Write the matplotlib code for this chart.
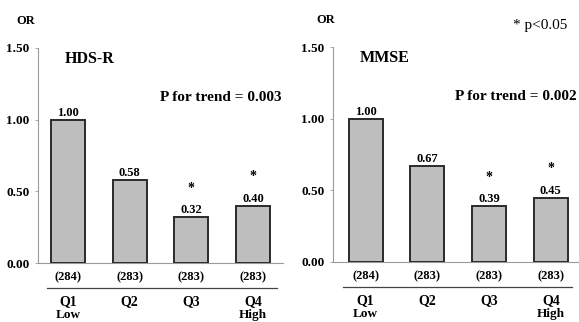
import matplotlib
matplotlib.use("Agg")
import matplotlib.pyplot as plt

categories = ["Q1", "Q2", "Q3", "Q4"]
sublabels = ["Low", "", "", "High"]
counts = ["(284)", "(283)", "(283)", "(283)"]
hds_values = [1.00, 0.58, 0.32, 0.40]
mmse_values = [1.00, 0.67, 0.39, 0.45]
hds_sig = [False, False, True, True]
mmse_sig = [False, False, True, True]
yticks = [0.00, 0.50, 1.00, 1.50]
ytick_labels = ["0.00", "0.50", "1.00", "1.50"]

plt.rcParams['font.family'] = ['Liberation Serif', 'DejaVu Serif']
plt.rcParams['font.weight'] = 'bold'

W, H = 579, 322
fig = plt.figure(figsize=(W / 100, H / 100), dpi=100)


def px_axes(x0, x1, ytop, ybot):
    return fig.add_axes([x0 / W, (H - ybot) / H, (x1 - x0) / W, (ybot - ytop) / H])


def panel(ax, values, sig, title, trend, xlim, line_x):
    xs = list(range(len(categories)))
    ax.bar(xs, values, width=0.55, color='#bebebe', edgecolor='#2a2a2a', linewidth=1.4, zorder=3)
    ax.set_xlim(*xlim)
    ax.set_ylim(0, 1.5)
    ax.set_yticks(yticks)
    ax.set_yticklabels(ytick_labels, fontsize=9.5, fontweight='bold')
    ax.set_xticks([])
    for s in ['top', 'right']:
        ax.spines[s].set_visible(False)
    for s in ['left', 'bottom']:
        ax.spines[s].set_color('#9a9a9a')
        ax.spines[s].set_linewidth(0.8)
    ax.tick_params(axis='y', length=2, width=0.6, color='#9a9a9a', pad=4)
    for x, v, s in zip(xs, values, sig):
        ax.annotate(f"{v:.2f}", (x, v), xytext=(0, 0.5), textcoords='offset points',
                    ha='center', va='bottom', fontsize=9, fontweight='bold')
        if s:
            ax.annotate("*", (x, v), xytext=(0, 16), textcoords='offset points',
                        ha='center', va='bottom', fontsize=10, fontweight='bold')
    tr = ax.get_xaxis_transform()
    for x, c, q, sl in zip(xs, counts, categories, sublabels):
        ax.text(x, -0.065, c, transform=tr, ha='center', va='center', fontsize=9, fontweight='bold')
        ax.text(x, -0.180, q, transform=tr, ha='center', va='center', fontsize=10, fontweight='bold')
        if sl:
            ax.text(x, -0.242, sl, transform=tr, ha='center', va='center', fontsize=9.5, fontweight='bold')
    ax.plot(line_x, [-0.116, -0.116], transform=tr, color='#444444', linewidth=0.9, clip_on=False)
    ax.text(0.11, 0.95, title, transform=ax.transAxes, ha='left', va='center', fontsize=11.5, fontweight='bold')
    ax.text(0.995, 0.77, trend, transform=ax.transAxes, ha='right', va='center', fontsize=11, fontweight='bold')


ax1 = px_axes(38, 283, 48, 263)
panel(ax1, hds_values, hds_sig, "HDS-R", "P for trend = 0.003", (-0.486, 3.485), [-0.34, 3.39])
ax2 = px_axes(333, 578, 47, 262)
panel(ax2, mmse_values, mmse_sig, "MMSE", "P for trend = 0.002", (-0.527, 3.44), [-0.365, 3.35])

fig.text(26 / W, 1 - 21 / H, "OR", ha='center', va='center', fontsize=9, fontweight='bold')
fig.text(326 / W, 1 - 20 / H, "OR", ha='center', va='center', fontsize=9, fontweight='bold')
fig.text(567 / W, 1 - 25 / H, "* p<0.05", ha='right', va='center', fontsize=11, fontweight='normal')

fig.savefig("out.png", dpi=100)
